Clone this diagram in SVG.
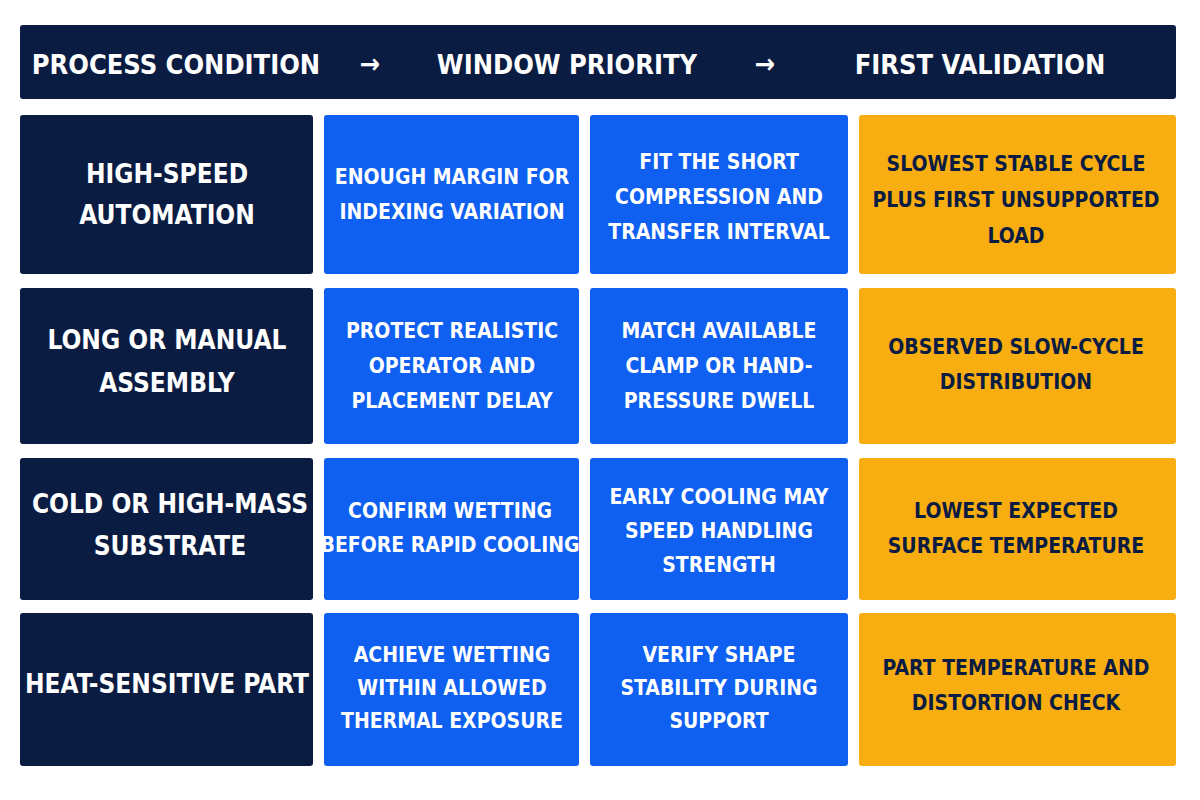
<svg xmlns="http://www.w3.org/2000/svg" width="1200" height="800" viewBox="0 0 1200 800">
<style>
text{font-family:"DejaVu Sans Condensed","DejaVu Sans",sans-serif;font-stretch:condensed;font-weight:bold;text-anchor:middle;dominant-baseline:central}
.n{fill:#0a1c42}.b{fill:#0f5ff0}.o{fill:#f8ad10}
.h{fill:#fff;font-size:27px}
.c1{fill:#fff;font-size:26px}
.w{fill:#fff;font-size:21px}
.d{fill:#0a1c42;font-size:21px}
</style>
<rect width="1200" height="800" fill="#fff"/>
<g id="header">
<rect class="n" x="20" y="25" width="1156" height="74" rx="3"/>
<text class="h" x="176" y="64">PROCESS CONDITION</text>
<text class="h" x="370" y="63">→</text>
<text class="h" x="567" y="64">WINDOW PRIORITY</text>
<text class="h" x="765" y="63">→</text>
<text class="h" x="980" y="64">FIRST VALIDATION</text>
</g>
<g id="r1">
<rect class="n" x="20" y="115" width="293" height="159" rx="3"/>
<text class="c1" x="167" y="174">HIGH-SPEED</text><text class="c1" x="167" y="215">AUTOMATION</text>
<rect class="b" x="324" y="115" width="255" height="159" rx="3"/>
<text class="w" x="452" y="177">ENOUGH MARGIN FOR</text><text class="w" x="452" y="212">INDEXING VARIATION</text>
<rect class="b" x="590" y="115" width="258" height="159" rx="3"/>
<text class="w" x="719" y="162">FIT THE SHORT</text><text class="w" x="719" y="197">COMPRESSION AND</text><text class="w" x="719" y="232">TRANSFER INTERVAL</text>
<rect class="o" x="859" y="115" width="317" height="159" rx="3"/>
<text class="d" x="1016" y="164">SLOWEST STABLE CYCLE</text><text class="d" x="1016" y="200">PLUS FIRST UNSUPPORTED</text><text class="d" x="1016" y="236">LOAD</text>
</g>
<g id="r2">
<rect class="n" x="20" y="288" width="293" height="156" rx="3"/>
<text class="c1" x="167" y="340">LONG OR MANUAL</text><text class="c1" x="167" y="383">ASSEMBLY</text>
<rect class="b" x="324" y="288" width="255" height="156" rx="3"/>
<text class="w" x="452" y="331">PROTECT REALISTIC</text><text class="w" x="452" y="366">OPERATOR AND</text><text class="w" x="452" y="401">PLACEMENT DELAY</text>
<rect class="b" x="590" y="288" width="258" height="156" rx="3"/>
<text class="w" x="719" y="331">MATCH AVAILABLE</text><text class="w" x="719" y="366">CLAMP OR HAND-</text><text class="w" x="719" y="401">PRESSURE DWELL</text>
<rect class="o" x="859" y="288" width="317" height="156" rx="3"/>
<text class="d" x="1016" y="347">OBSERVED SLOW-CYCLE</text><text class="d" x="1016" y="382">DISTRIBUTION</text>
</g>
<g id="r3">
<rect class="n" x="20" y="458" width="293" height="142" rx="3"/>
<text class="c1" x="170" y="504">COLD OR HIGH-MASS</text><text class="c1" x="170" y="546">SUBSTRATE</text>
<rect class="b" x="324" y="458" width="255" height="142" rx="3"/>
<text class="w" x="450" y="511">CONFIRM WETTING</text><text class="w" x="450" y="545">BEFORE RAPID COOLING</text>
<rect class="b" x="590" y="458" width="258" height="142" rx="3"/>
<text class="w" x="719" y="497">EARLY COOLING MAY</text><text class="w" x="719" y="531">SPEED HANDLING</text><text class="w" x="719" y="565">STRENGTH</text>
<rect class="o" x="859" y="458" width="317" height="142" rx="3"/>
<text class="d" x="1016" y="511">LOWEST EXPECTED</text><text class="d" x="1016" y="546">SURFACE TEMPERATURE</text>
</g>
<g id="r4">
<rect class="n" x="20" y="613" width="293" height="153" rx="3"/>
<text class="c1" x="167" y="684">HEAT-SENSITIVE PART</text>
<rect class="b" x="324" y="613" width="255" height="153" rx="3"/>
<text class="w" x="452" y="655">ACHIEVE WETTING</text><text class="w" x="452" y="688">WITHIN ALLOWED</text><text class="w" x="452" y="721">THERMAL EXPOSURE</text>
<rect class="b" x="590" y="613" width="258" height="153" rx="3"/>
<text class="w" x="719" y="655">VERIFY SHAPE</text><text class="w" x="719" y="688">STABILITY DURING</text><text class="w" x="719" y="721">SUPPORT</text>
<rect class="o" x="859" y="613" width="317" height="153" rx="3"/>
<text class="d" x="1016" y="668">PART TEMPERATURE AND</text><text class="d" x="1016" y="703">DISTORTION CHECK</text>
</g>
<g id="connectors"></g>
</svg>
